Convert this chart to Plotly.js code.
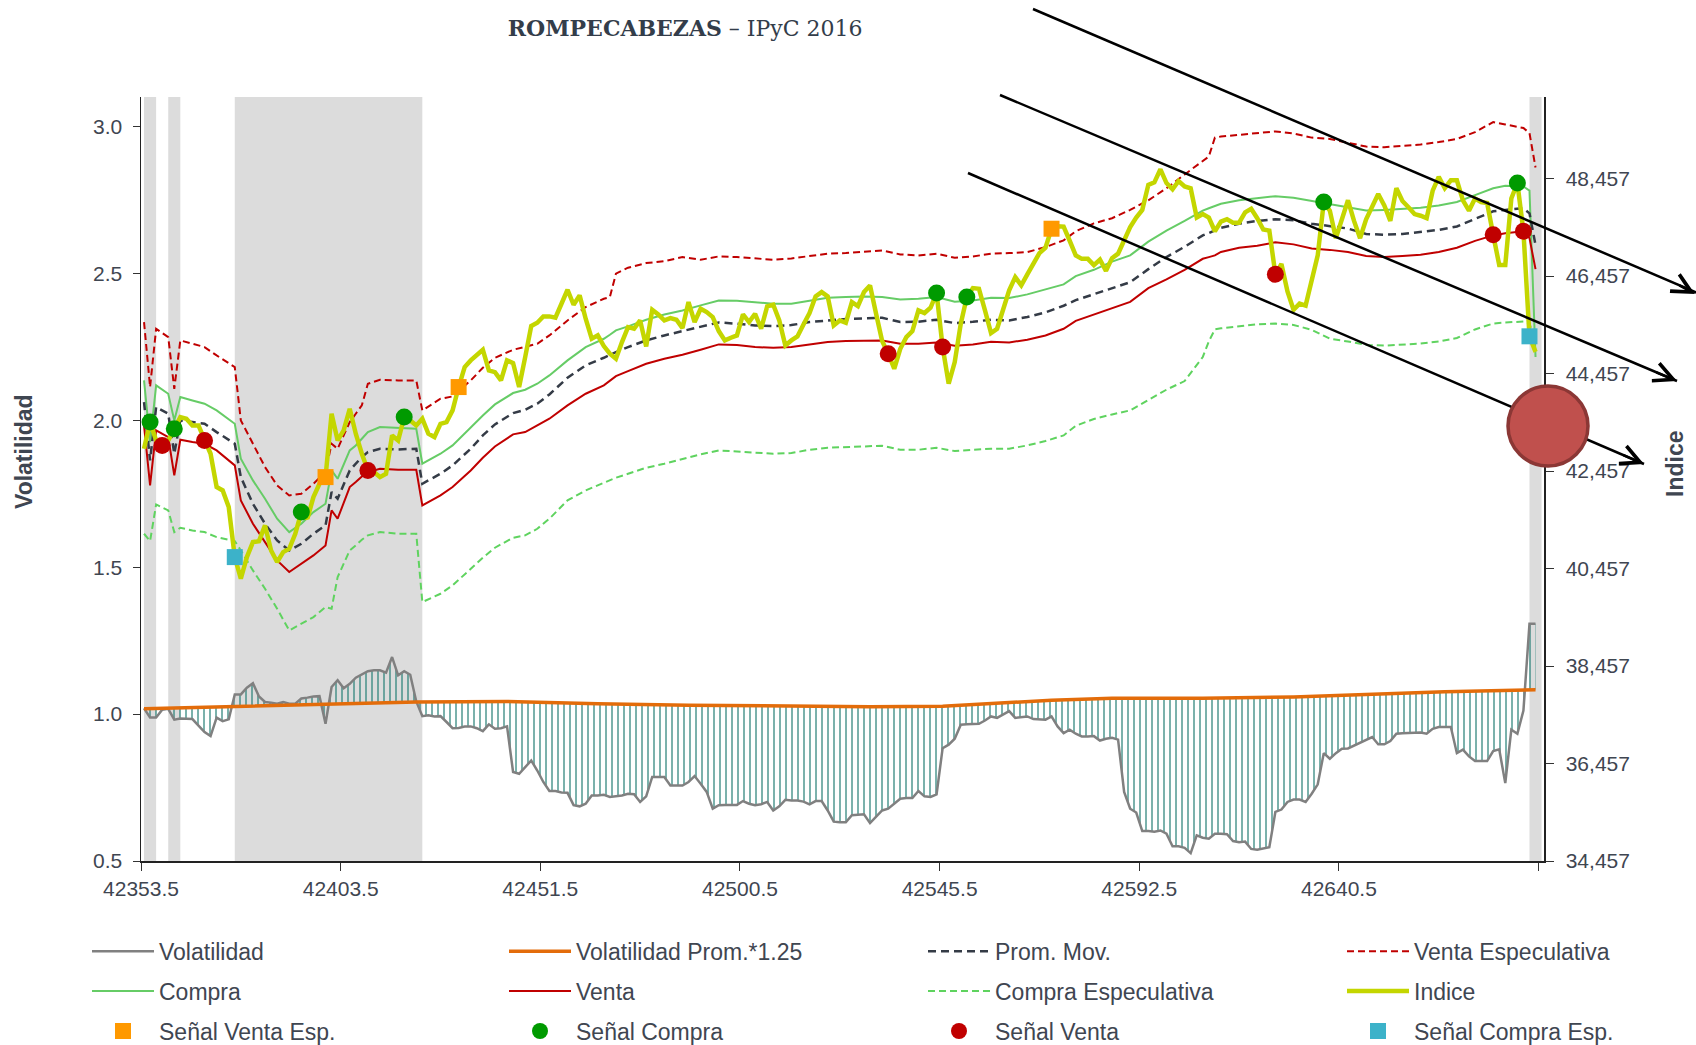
<!DOCTYPE html>
<html><head><meta charset="utf-8">
<script src="https://cdn.plot.ly/plotly-3.0.1.min.js"></script>
<style>body{margin:0;background:#fff}#chart{width:1696px;height:1045px}</style>
</head><body><div id="chart"></div>
<script>
// ---- etiquetas del eje X (cada 33 sesiones) ----
const etiquetasX = ["42353.5","42403.5","42451.5","42500.5","42545.5","42592.5","42640.5"];
const pasoEtiquetas = 33;

// ---- Volatilidad (una por sesión) ----
const volatilidad = [1.020,0.988,0.988,1.015,1.018,0.981,0.985,0.985,0.983,0.961,
0.939,0.925,0.988,0.976,0.982,1.067,1.067,1.090,1.105,1.060,
1.041,1.039,1.035,1.041,1.035,1.035,1.053,1.056,1.060,1.061,
0.967,1.092,1.115,1.088,1.103,1.124,1.134,1.146,1.149,1.149,
1.141,1.194,1.132,1.146,1.134,1.043,0.993,0.996,0.992,0.993,
0.973,0.952,0.953,0.958,0.958,0.952,0.942,0.965,0.950,0.952,
0.958,0.803,0.797,0.820,0.842,0.808,0.769,0.738,0.738,0.733,
0.732,0.690,0.686,0.695,0.723,0.723,0.725,0.718,0.720,0.723,
0.729,0.727,0.701,0.720,0.786,0.786,0.786,0.757,0.757,0.757,
0.769,0.789,0.763,0.735,0.678,0.690,0.691,0.691,0.691,0.704,
0.695,0.690,0.693,0.701,0.672,0.686,0.708,0.706,0.706,0.702,
0.693,0.704,0.704,0.672,0.634,0.632,0.632,0.656,0.657,0.659,
0.629,0.650,0.672,0.678,0.695,0.712,0.714,0.714,0.738,0.720,
0.718,0.727,0.884,0.896,0.916,0.964,0.965,0.967,0.967,0.978,
0.992,0.987,0.999,1.010,0.987,0.990,0.992,0.983,0.983,0.981,
0.992,0.958,0.935,0.947,0.933,0.924,0.924,0.925,0.910,0.916,
0.919,0.913,0.735,0.678,0.665,0.602,0.602,0.600,0.604,0.593,
0.550,0.550,0.545,0.527,0.587,0.579,0.576,0.593,0.593,0.591,
0.568,0.564,0.566,0.541,0.538,0.543,0.547,0.667,0.675,0.701,
0.709,0.709,0.701,0.729,0.761,0.867,0.848,0.867,0.882,0.883,
0.893,0.904,0.914,0.922,0.897,0.897,0.908,0.933,0.935,0.935,
0.937,0.937,0.933,0.950,0.956,0.956,0.956,0.867,0.879,0.856,
0.840,0.840,0.840,0.874,0.880,0.765,0.947,0.933,1.012,1.307,
1.307];

const umbralIdx = [0,15,30,45,60,75,90,105,120,132,140,150,160,175,190,200,215,230];
const umbral    = [1.018,1.026,1.033,1.041,1.043,1.035,1.030,1.027,1.025,1.027,1.035,1.047,1.054,1.054,1.058,1.065,1.076,1.083];

// ---- Indice (una por sesión) ----
const indice = [42914,43461,43084,42982,43084,43324,43563,43529,43392,43392,
43084,42811,42127,42059,41717,40691,40247,40691,40999,41019,
41341,40828,40589,40794,40862,41170,41614,41478,41922,42196,
42332,43632,43084,43290,43734,43221,42811,42469,42435,42332,
42401,43187,43084,43563,43495,43392,43529,43221,43153,43426,
43461,43700,44179,44589,44726,44828,44945,44520,44486,44315,
44726,44671,44179,44794,45430,45498,45628,45628,45601,45888,
46175,45868,46059,45580,45170,45239,45020,44862,44760,45102,
45409,45375,45546,45013,45765,45669,45546,45594,45560,45389,
45922,45512,45786,45717,45615,45327,45136,45191,45238,45669,
45512,45683,45375,45833,45868,45546,45033,45136,45218,45464,
45697,46039,46127,46039,45444,45546,45498,45922,45840,46127,
46264,45683,45122,44862,44555,44965,45204,45327,45751,45697,
45806,46107,44999,44247,44691,45478,46025,46209,46196,45751,
45286,45375,45751,46162,46435,46264,46490,46722,46927,47037,
47427,47475,47470,47180,46880,46809,46809,46682,46795,46562,
46824,46915,47198,47459,47657,47813,48328,48378,48646,48364,
48236,48406,48293,48258,47657,47728,47657,47375,47572,47622,
47551,47551,47763,47834,47643,47410,47389,46492,46704,46139,
45764,45891,45849,46386,46880,47975,47798,47233,47657,48010,
47587,47233,47622,47904,48138,47904,47587,48258,47996,47869,
47728,47693,47643,48208,48491,48258,48420,48420,48010,47798,
48046,47975,47954,47304,46682,46682,48046,48364,47375,45220,
44902];

const bandaIdx = [0,1,2,4,5,6,8,10,12,15,16,18,20,22,24,26,28,30,31,32,34,35,36,37,39,42,45,46,49,51,54,56,58,61,63,65,67,70,73,76,77,78,
80,83,86,89,92,95,98,101,104,107,110,113,116,119,122,125,128,131,134,137,140,143,146,149,152,
154,157,160,163,166,169,172,175,176,177,178,181,184,187,190,193,196,199,202,205,208,211,214,217,220,223,225,227,228,229,230];
const promMov = [43871,42674,43768,43632,42811,43495,43461,43426,43255,43016,42332,41785,41375,41033,40828,40965,41170,41341,42025,41888,42469,42606,42743,42845,42914,42900,42914,42196,42401,42572,42914,43187,43413,43645,43714,43837,44028,44370,44623,44780,44842,44897,
44999,45136,45238,45327,45423,45505,45478,45444,45430,45450,45512,45546,45574,45587,45601,45512,45519,45560,45491,45519,45560,45546,45615,45710,45847,
45962,46089,46209,46329,46598,46845,47057,47290,47339,47396,47445,47530,47587,47622,47601,47530,47474,47431,47318,47304,47318,47361,47403,47474,47622,47784,47813,47841,47848,47742,47092];
const compra = [44315,43050,44213,44042,43495,43973,43905,43837,43700,43426,42708,42264,41888,41478,41204,41375,41614,41785,42469,42298,42879,42982,43119,43255,43358,43344,43324,42606,42811,42982,43358,43597,43823,44056,44124,44247,44418,44726,44999,45170,45252,45341,
45423,45560,45669,45751,45854,45956,45950,45915,45888,45888,45956,46011,46025,46039,46025,45977,45991,46025,45929,45956,46011,46004,46080,46175,46285,
46456,46584,46753,46880,47163,47389,47587,47799,47848,47897,47940,48010,48053,48095,48060,47996,47926,47869,47799,47813,47834,47855,47904,47975,48116,48258,48307,48307,48293,48208,44796];
const venta = [43392,42161,43290,43153,42367,43098,43050,43016,42879,42572,41854,41375,40999,40623,40384,40554,40725,40931,41649,41478,42127,42230,42346,42435,42503,42483,42483,41751,41956,42127,42469,42729,42961,43208,43255,43392,43529,43803,44042,44213,44315,44404,
44507,44657,44760,44842,44944,45054,45040,44999,44985,44999,45054,45102,45122,45136,45136,45068,45068,45095,45026,45054,45109,45095,45150,45238,45375,
45538,45665,45785,45927,46209,46386,46584,46810,46845,46880,46951,47036,47078,47149,47106,47021,46993,46951,46866,46845,46866,46894,46951,47036,47177,47290,47332,47361,47375,47233,46598];
const ventaEsp = [45512,44179,45375,45204,44144,45136,45068,44999,44828,44589,43495,43016,42537,42161,41956,41990,42196,42435,43016,42914,43461,43632,43803,44247,44329,44315,44315,43700,43939,43987,44315,44575,44780,44944,44999,45068,45238,45546,45820,45991,46025,46504,
46627,46722,46763,46845,46791,46859,46845,46818,46791,46818,46859,46914,46927,46955,46982,46900,46880,46914,46832,46859,46914,46927,46948,47051,47187,
47375,47537,47643,47813,48010,48258,48540,48802,48908,49296,49317,49353,49395,49423,49381,49296,49268,49183,49112,49098,49127,49155,49204,49268,49409,49614,49565,49508,49494,49388,48682];
const compraEsp = [41170,41019,41772,41649,41204,41293,41238,41204,41101,41019,40828,40418,40042,39631,39187,39324,39460,39666,39631,40281,40828,40931,41047,41136,41204,41170,41170,39768,39939,40110,40452,40678,40883,41088,41136,41272,41478,41854,42059,42209,42264,42319,
42401,42524,42606,42708,42797,42879,42859,42832,42811,42825,42893,42934,42948,42961,42975,42893,42893,42934,42866,42893,42914,42914,42982,43071,43187,
43384,43525,43617,43701,43913,44125,44302,44796,45114,45361,45383,45432,45467,45482,45453,45354,45171,45114,45044,45029,45044,45072,45114,45185,45361,45482,45503,45524,45524,45482,45114];

// ---- Señales (sesión en que aparecen) ----
const senalVentaEsp  = [30,52,150];
const senalCompra    = [1,5,26,43,131,136,195,227];
const senalVenta     = [3,10,37,123,132,187,223,228];
const senalCompraEsp = [15,229];

// ---- Zonas sombreadas (sesiones inicio-fin) ----
const zonasSombra = [[0,1],[4,5],[15,45],[229,230]];

// ================= construcción =================
const pos = i => i + 0.5;               // centro de la sesión i en el eje
const xAll = volatilidad.map((_, i) => pos(i));
const xBand = bandaIdx.map(pos);
const xUmb = umbralIdx.map(pos);

const FONT = 'Liberation Sans, Arial, sans-serif';
const TXT = '#3f4651';

const traces = [];
// sombreado: una barra por zona (eje base oculto)
traces.push({type:'bar', x:zonasSombra.map(z => pos(z[0])), y:zonasSombra.map(() => 1),
  width:zonasSombra.map(z => z[1] - z[0] + 1), offset:0,
  marker:{color:'#dcdcdc', line:{width:0}}, xaxis:'x', yaxis:'y', showlegend:false, hoverinfo:'skip'});

// volatilidad: base de rayado, rayado, línea y promedio
traces.push({type:'scatter', mode:'lines', x:xUmb, y:umbral, line:{width:0, color:'rgba(0,0,0,0)'},
  yaxis:'y2', showlegend:false, hoverinfo:'skip'});
traces.push({type:'scatter', mode:'lines', x:xAll, y:volatilidad, line:{width:0, color:'rgba(0,0,0,0)'},
  fill:'tonexty', fillcolor:'rgba(0,0,0,0)',
  fillpattern:{shape:'|', size:6, solidity:0.22, fgcolor:'#1f7c72', fgopacity:0.9, bgcolor:'rgba(0,0,0,0)'},
  yaxis:'y2', showlegend:false, hoverinfo:'skip'});
traces.push({type:'scatter', mode:'lines', name:'Volatilidad', x:xAll, y:volatilidad,
  line:{color:'#808080', width:2.5}, yaxis:'y2', legend:'legend', legendgroup:'g1', legendrank:1});
traces.push({type:'scatter', mode:'lines', name:'Volatilidad Prom.*1.25', x:xUmb, y:umbral,
  line:{color:'#e36c0a', width:3.5}, yaxis:'y2', legend:'legend2', legendgroup:'g2', legendrank:1});

// bandas
traces.push({type:'scatter', mode:'lines', name:'Compra Especulativa', x:xBand, y:compraEsp,
  line:{color:'#5fd35f', width:2, dash:'7px,4px'}, yaxis:'y3', legend:'legend3', legendgroup:'g7', legendrank:2});
traces.push({type:'scatter', mode:'lines', name:'Venta Especulativa', x:xBand, y:ventaEsp,
  line:{color:'#c00000', width:2, dash:'7px,4px'}, yaxis:'y3', legend:'legend4', legendgroup:'g4', legendrank:1});
traces.push({type:'scatter', mode:'lines', name:'Compra', x:xBand, y:compra,
  line:{color:'#66cc66', width:2}, yaxis:'y3', legend:'legend', legendgroup:'g5', legendrank:2});
traces.push({type:'scatter', mode:'lines', name:'Venta', x:xBand, y:venta,
  line:{color:'#c00000', width:2}, yaxis:'y3', legend:'legend2', legendgroup:'g6', legendrank:2});
traces.push({type:'scatter', mode:'lines', name:'Prom. Mov.', x:xBand, y:promMov,
  line:{color:'#343b46', width:2.5, dash:'8px,5px'}, yaxis:'y3', legend:'legend3', legendgroup:'g3', legendrank:1});
traces.push({type:'scatter', mode:'lines', name:'Indice', x:xAll, y:indice,
  line:{color:'#c4d600', width:4.5}, yaxis:'y3', legend:'legend4', legendgroup:'g8', legendrank:2});

// señales
function senal(name, idx, color, symbol, leg, grp) {
  return {type:'scatter', mode:'markers', name:name, x:idx.map(pos), y:idx.map(i => indice[i]),
    marker:{color:color, size:symbol === 'square' ? 16 : 17, symbol:symbol, line:{width:0}},
    yaxis:'y3', legend:leg, legendgroup:grp, legendrank:3};
}
traces.push(senal('Señal Venta Esp.', senalVentaEsp, '#ff9900', 'square', 'legend', 'g9'));
traces.push(senal('Señal Compra', senalCompra, '#009a00', 'circle', 'legend2', 'g10'));
traces.push(senal('Señal Venta', senalVenta, '#c00000', 'circle', 'legend3', 'g11'));
traces.push(senal('Señal Compra Esp.', senalCompraEsp, '#3cb2c9', 'square', 'legend4', 'g12'));

// ---- geometría de página ----
const L = 141, R = 152, T = 97, B = 184, W = 1696, H = 1045;
const PW = W - L - R, PH = H - T - B;
const px = x => (x - L) / PW;           // píxel -> papel
const py = y => (H - B - y) / PH;

const legBase = {orientation:'v', xanchor:'left', yanchor:'top', y:-0.09,
  traceorder:'grouped', tracegroupgap:7, itemwidth:62, bgcolor:'rgba(0,0,0,0)',
  font:{family:FONT, size:23, color:TXT}, itemclick:false, itemdoubleclick:false};

const flechas = [
  {x0:1033, y0:9,  x1:1700, y1:294},
  {x0:1000, y0:95, x1:1677, y1:381},
  {x0:968,  y0:173, x1:1644, y1:464}
];
const shapes = flechas.map(f => ({type:'line', xref:'paper', yref:'paper', layer:'above',
  x0:px(f.x0), y0:py(f.y0), x1:px(f.x1), y1:py(f.y1), line:{color:'#000', width:2.5}}));
shapes.push({type:'circle', xref:'paper', yref:'paper', layer:'above',
  x0:px(1508), x1:px(1588), y0:py(466), y1:py(386),
  fillcolor:'#c0504d', line:{color:'#8b3735', width:3.5}});
const annotations = flechas.map(f => {
  const dx = f.x1 - f.x0, dy = f.y1 - f.y0, len = Math.hypot(dx, dy);
  return {xref:'paper', yref:'paper', x:px(f.x1), y:py(f.y1), text:'', showarrow:true,
    axref:'pixel', ayref:'pixel', ax:-dx/len*24, ay:-dy/len*24,
    arrowhead:5, arrowsize:1.5, arrowwidth:2.5, arrowcolor:'#000'};
});
// títulos de ejes
annotations.push({xref:'paper', yref:'paper', x:px(24), y:py(452), text:'<b>Volatilidad</b>', textangle:-90,
  showarrow:false, xanchor:'center', yanchor:'middle', font:{family:FONT, size:23, color:TXT}});
annotations.push({xref:'paper', yref:'paper', x:px(1675), y:py(464), text:'<b>Indice</b>', textangle:-90,
  showarrow:false, xanchor:'center', yanchor:'middle', font:{family:FONT, size:23, color:TXT}});

const layout = {
  width:W, height:H, margin:{l:L, r:R, t:T, b:B, autoexpand:false},
  paper_bgcolor:'#fff', plot_bgcolor:'#fff', hovermode:false, barmode:'overlay',
  title:{text:'<b>ROMPECABEZAS</b> – IPyC 2016', xref:'container', yref:'container',
    x:0.404, xanchor:'center', y:0.973, yanchor:'middle',
    font:{family:'DejaVu Serif, serif', size:22, color:'#333d4a'}},
  xaxis:{range:[0, 231.9], tickmode:'array',
    tickvals:etiquetasX.concat(['']).map((_, k) => k * pasoEtiquetas),
    ticktext:etiquetasX.concat(['']),
    ticks:'outside', ticklen:8, tickcolor:'#333', showline:true, linecolor:'#222', linewidth:1.5,
    showgrid:false, zeroline:false, tickfont:{family:FONT, size:21, color:TXT}, anchor:'y'},
  yaxis:{range:[0,1], visible:false, fixedrange:true},
  yaxis2:{overlaying:'y', side:'left', anchor:'x', range:[0.5, 3.1], tickmode:'linear', tick0:0.5, dtick:0.5,
    tickformat:'.1f', ticks:'outside', ticklen:7, tickcolor:'#333', showline:true, linecolor:'#222', linewidth:1.5,
    showgrid:false, zeroline:false, tickfont:{family:FONT, size:21, color:TXT}, ticklabelstandoff:6},
  yaxis3:{overlaying:'y', side:'right', anchor:'x', range:[34457, 50129], tickmode:'linear', tick0:34457, dtick:2000,
    tickformat:',d', ticks:'outside', ticklen:8, tickcolor:'#333', showline:true, linecolor:'#222', linewidth:1.5,
    showgrid:false, zeroline:false, tickfont:{family:FONT, size:21, color:TXT}, ticklabelstandoff:8},
  legend: Object.assign({}, legBase, {x:px(87)}),
  legend2: Object.assign({}, legBase, {x:px(504)}),
  legend3: Object.assign({}, legBase, {x:px(923)}),
  legend4: Object.assign({}, legBase, {x:px(1342)}),
  shapes:shapes, annotations:annotations, showlegend:true
};

Plotly.newPlot('chart', traces, layout, {displayModeBar:false, staticPlot:true});
</script></body></html>
